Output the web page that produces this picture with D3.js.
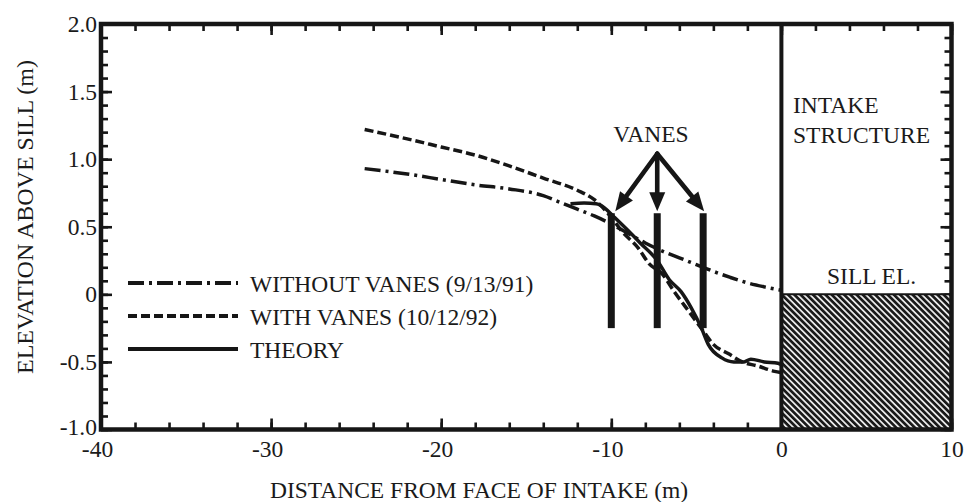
<!DOCTYPE html>
<html>
<head>
<meta charset="utf-8">
<script src="https://cdn.jsdelivr.net/npm/d3@7"></script>
<style>
  html, body { margin: 0; padding: 0; background: #fff; }
  svg { display: block; }
  svg text { font-family: "Liberation Serif", "DejaVu Serif", serif !important; fill: #1a1a1a; }
</style>
</head>
<body>
<svg id="chart" width="968" height="502"></svg>
<script>
// Water-surface profiles approaching the intake face
const withoutVanesX = [-24.5, -22, -20, -18, -16, -14, -13, -12, -11, -10, -9, -8, -7, -6, -5, -4, -3, -2, -1, 0];
const withoutVanesY = [0.93, 0.89, 0.85, 0.81, 0.78, 0.73, 0.68, 0.63, 0.58, 0.52, 0.45, 0.38, 0.32, 0.27, 0.22, 0.17, 0.125, 0.085, 0.055, 0.03];

const withVanesX = [-24.5, -22, -20, -18, -16, -14, -12, -11, -10, -9.4, -8.4, -7.8, -7, -6.3, -5.3, -4.6, -4, -3.1, -2.3, -1.4, -0.4, 0];
const withVanesY = [1.22, 1.15, 1.09, 1.03, 0.95, 0.86, 0.77, 0.70, 0.57, 0.47, 0.34, 0.23, 0.15, 0.02, -0.15, -0.27, -0.37, -0.44, -0.5, -0.53, -0.57, -0.58];

const theoryX = [-12.4, -11.6, -10.9, -10.4, -9.9, -9, -8.3, -7.3, -6.6, -5.9, -5.3, -4.7, -4.3, -3.5, -2.8, -2.2, -1.8, -1, -0.2, 0];
const theoryY = [0.67, 0.675, 0.67, 0.64, 0.58, 0.47, 0.38, 0.25, 0.11, 0.02, -0.1, -0.25, -0.37, -0.47, -0.5, -0.5, -0.48, -0.5, -0.51, -0.52];

// Vane positions and extent
const vaneX = [-10, -7.3, -4.6];
const vaneTop = 0.6;
const vaneBottom = -0.25;
const arrowApex = [-7.3, 1.04];

// Axis ticks
const xMajorTicks = [-40, -30, -20, -10, 0, 10];
const xTickLabels = ["-40", "-30", "-20", "-10", "0", "10"];
const xMinorTicks = d3.range(-40, 10.01, 2);
const yMajorTicks = [-1.0, -0.5, 0, 0.5, 1.0, 1.5, 2.0];
const yMinorTicks = d3.range(-1.0, 2.001, 0.1);
const yTickLabels = ["-1.0", "-0.5", "0", "0.5", "1.0", "1.5", "2.0"];

const legendLabels = ["WITHOUT VANES (9/13/91)", "WITH VANES (10/12/92)", "THEORY"];
const xTitle = "DISTANCE FROM FACE OF INTAKE (m)";
const yTitle = "ELEVATION ABOVE SILL (m)";

const FS = 23.5;
const ink = "#161616";
const serif = '"Liberation Serif", "DejaVu Serif", serif';

const svg = d3.select("#chart");
const x = d3.scaleLinear().domain([-40, 10]).range([101, 951.5]);
const y = d3.scaleLinear().domain([-1, 2]).range([429.5, 24]);

// hatch pattern for the sill block
const defs = svg.append("defs");
const pat = defs.append("pattern")
  .attr("id", "hatch")
  .attr("patternUnits", "userSpaceOnUse")
  .attr("width", 4.4).attr("height", 4.4)
  .attr("patternTransform", "rotate(-45)");
pat.append("rect").attr("width", 4.4).attr("height", 4.4).attr("fill", "#e8e8e8");
pat.append("line").attr("x1", 1.3).attr("y1", -1).attr("x2", 1.3).attr("y2", 5.4)
  .attr("stroke", "#1a1a1a").attr("stroke-width", 2.7);

// axes: inward ticks on all four sides
function styleAxis(g) {
  g.attr("font-family", serif);
  g.select(".domain").remove();
  g.selectAll(".tick line").attr("stroke", ink).attr("stroke-width", 2.6);
  g.selectAll(".tick text").attr("font-size", FS).attr("fill", ink);
}

svg.append("g").attr("transform", `translate(0,${y(-1)})`)
  .call(d3.axisBottom(x).tickValues(xMinorTicks).tickSize(-7).tickFormat(""))
  .call(styleAxis);
svg.append("g").attr("transform", `translate(0,${y(-1)})`)
  .call(d3.axisBottom(x).tickValues(xMajorTicks).tickSize(-11).tickPadding(11)
    .tickFormat((d, i) => xTickLabels[i]))
  .call(styleAxis)
  .call(g => g.selectAll(".tick text").attr("dx", d => d < 0 ? -4 : 0));
svg.append("g").attr("transform", `translate(0,${y(2)})`)
  .call(d3.axisTop(x).tickValues(xMinorTicks).tickSize(-7).tickFormat(""))
  .call(styleAxis);
svg.append("g").attr("transform", `translate(0,${y(2)})`)
  .call(d3.axisTop(x).tickValues(xMajorTicks).tickSize(-11).tickFormat(""))
  .call(styleAxis);

svg.append("g").attr("transform", `translate(${x(-40)},0)`)
  .call(d3.axisLeft(y).tickValues(yMinorTicks).tickSize(-7).tickFormat(""))
  .call(styleAxis);
svg.append("g").attr("transform", `translate(${x(-40)},0)`)
  .call(d3.axisLeft(y).tickValues(yMajorTicks).tickSize(-11).tickPadding(4)
    .tickFormat((d, i) => yTickLabels[i]))
  .call(styleAxis)
  .call(g => g.selectAll(".tick text").attr("dy", d => d === -1 ? "0.22em" : "0.32em"));
svg.append("g").attr("transform", `translate(${x(10)},0)`)
  .call(d3.axisRight(y).tickValues(yMinorTicks).tickSize(-7).tickFormat(""))
  .call(styleAxis);
svg.append("g").attr("transform", `translate(${x(10)},0)`)
  .call(d3.axisRight(y).tickValues(yMajorTicks).tickSize(-11).tickFormat(""))
  .call(styleAxis);

// intake sill block
svg.append("rect")
  .attr("x", x(0)).attr("y", y(0))
  .attr("width", x(10) - x(0)).attr("height", y(-1) - y(0))
  .attr("fill", "url(#hatch)");
svg.append("line")
  .attr("x1", x(0)).attr("x2", x(10)).attr("y1", y(0)).attr("y2", y(0))
  .attr("stroke", ink).attr("stroke-width", 2);

// frame and intake face
svg.append("rect")
  .attr("x", x(-40)).attr("y", y(2))
  .attr("width", x(10) - x(-40)).attr("height", y(-1) - y(2))
  .attr("fill", "none").attr("stroke", ink).attr("stroke-width", 4.5);
svg.append("line")
  .attr("x1", x(0)).attr("x2", x(0)).attr("y1", y(2)).attr("y2", y(-1))
  .attr("stroke", ink).attr("stroke-width", 4);

// profile curves
const line = d3.line().x(d => x(d[0])).y(d => y(d[1])).curve(d3.curveMonotoneX);
const series = [
  { xs: withoutVanesX, ys: withoutVanesY, dash: "16,5,3,5", w: 3.5 },
  { xs: withVanesX, ys: withVanesY, dash: "9,4", w: 3.5 },
  { xs: theoryX, ys: theoryY, dash: null, w: 3.5 }
];
series.forEach(s => {
  svg.append("path")
    .datum(d3.zip(s.xs, s.ys))
    .attr("d", line)
    .attr("fill", "none")
    .attr("stroke", ink)
    .attr("stroke-width", s.w)
    .attr("stroke-dasharray", s.dash);
});

// vanes
svg.selectAll(".vane").data(vaneX).join("line")
  .attr("class", "vane")
  .attr("x1", d => x(d)).attr("x2", d => x(d))
  .attr("y1", y(vaneTop)).attr("y2", y(vaneBottom))
  .attr("stroke", ink).attr("stroke-width", 7);

// arrows from label to vanes
const ax = x(arrowApex[0]), ay = y(arrowApex[1]);
vaneX.forEach(v => {
  const tx = x(v) + (v < arrowApex[0] - 0.5 ? 4 : (v > arrowApex[0] + 0.5 ? 1 : 0));
  const ty = y(vaneTop) - 2;
  const ang = Math.atan2(ty - ay, tx - ax);
  const headLen = 19, headHalf = 8;
  const bx = tx - headLen * Math.cos(ang), by = ty - headLen * Math.sin(ang);
  svg.append("line")
    .attr("x1", ax).attr("y1", ay).attr("x2", bx).attr("y2", by)
    .attr("stroke", ink).attr("stroke-width", 4.6).attr("stroke-linecap", "round");
  const px = -Math.sin(ang), py = Math.cos(ang);
  svg.append("path")
    .attr("d", `M${tx},${ty}L${bx + px * headHalf},${by + py * headHalf}L${bx - px * headHalf},${by - py * headHalf}Z`)
    .attr("fill", ink);
});

function label(xp, yp, str, anchor) {
  return svg.append("text").attr("x", xp).attr("y", yp)
    .attr("text-anchor", anchor || "start")
    .attr("font-family", serif).attr("font-size", FS).text(str);
}

label(651, 142, "VANES", "middle");

// intake labels
label(793, 113, "INTAKE");
label(793, 143, "STRUCTURE");
label(827, 284, "SILL EL.");

// legend
const legendDash = ["16,5,3,5", "9,4", null];
legendLabels.forEach((lab, i) => {
  const ly = 283 + i * 33;
  svg.append("line").attr("x1", 128).attr("x2", 238).attr("y1", ly).attr("y2", ly)
    .attr("stroke", ink).attr("stroke-width", 4).attr("stroke-dasharray", legendDash[i]);
  label(250, ly + 8.5, lab);
});

// axis titles
label(479, 498, xTitle, "middle");
svg.append("text").attr("transform", "translate(33,217) rotate(-90)")
  .attr("text-anchor", "middle").attr("font-family", serif)
  .attr("font-size", 24).text(yTitle);
</script>
</body>
</html>
